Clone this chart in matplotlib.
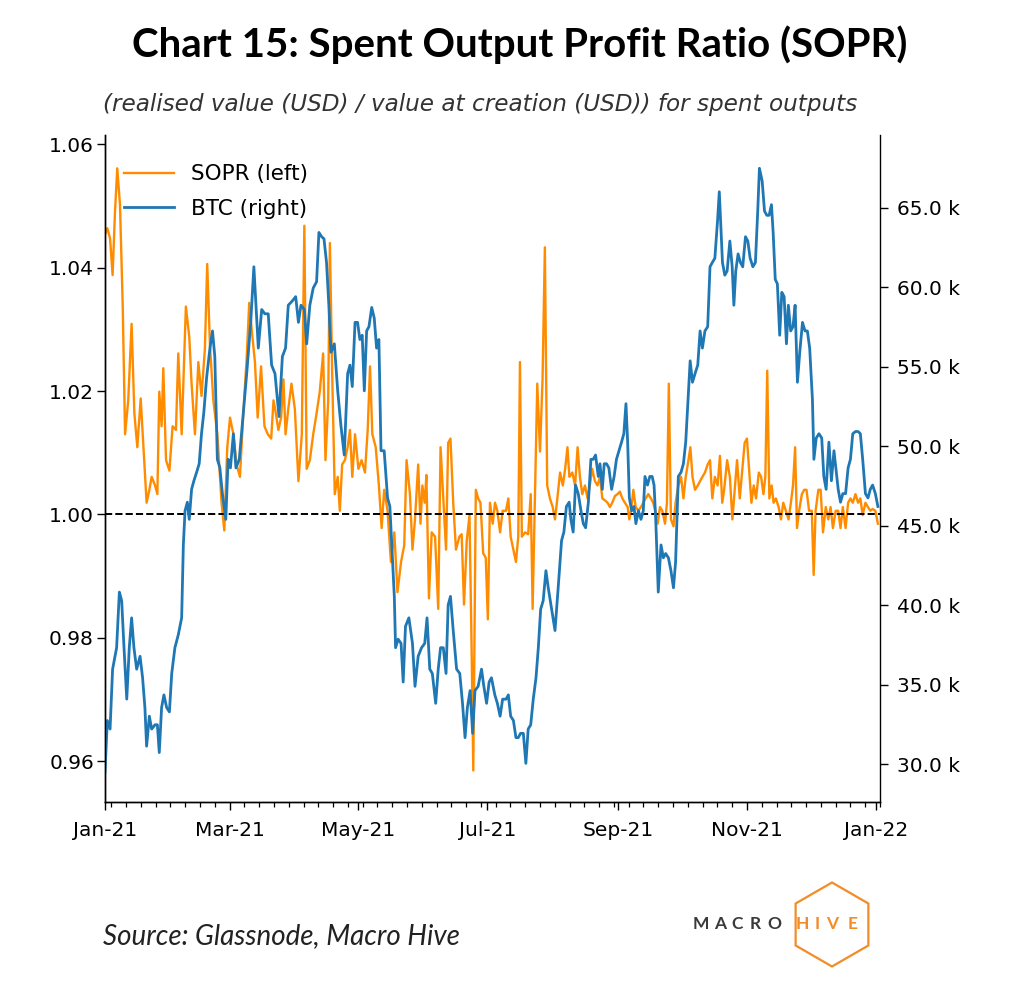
import matplotlib
matplotlib.use('Agg')
import matplotlib.pyplot as plt
import matplotlib.dates as mdates
from matplotlib.ticker import FuncFormatter
from matplotlib.patches import RegularPolygon
import pandas as pd

# ---------------- data ----------------
start_date = '2021-01-01'
end_date = '2022-01-03'

sopr_days = [0, 1.1, 2.4, 3.6, 4.7, 5.8, 7.1, 8.4, 9.5, 11, 12.6, 13.9, 15.3, 16.9, 18.1, 19.7, 21, 22.1, 23.7, 24.8,
             25.7, 26.8, 27.6, 28.9, 30.5, 32, 33.6, 34.7, 36.3, 38.3, 39.9, 41, 42.6, 44.2, 45.7, 47.3, 48.4, 49.7,
             51.3, 53.2, 55.2, 56.5, 57.9, 59.2, 60.8, 62.3, 63.9, 65.5, 67.1, 68.3, 69.4, 71, 72.3,
             73.9, 75.5, 77.1, 78.7, 79.8, 80.9, 82.1, 83.4, 84.5, 85.5, 86.8, 88.3, 89.9, 91.6, 93.2, 94.4, 95.5,
             97, 98.6, 100.2, 101.7, 103.3, 104.4, 105.7, 106.5, 107.6, 108.8, 110.2, 111.2, 112.3, 113.6, 114.9,
             116, 117.1, 118.4, 120, 121.5, 123.1, 124.4, 125.5, 126.6, 128.2, 129.7, 131, 132.2, 133.8, 135.4,
             137, 138.5, 140.2, 141.7, 142.8,
             144.4, 145.6, 146.8, 148.3, 149.4, 150.3, 151.4, 152.2, 153.4, 154.7, 156.3, 157.8, 158.9, 160.2,
             161.5, 162.5, 163.6, 164.9, 166.2, 167.8, 168.9, 170, 171.3, 172.6, 173.6, 174.4, 175.6, 176.7, 177.8,
             179.1, 180.3, 181.3, 182.3, 183.6, 184.7, 185.8, 187.1, 188.3, 189.9, 191, 192.1, 193.4, 194.6, 195.7,
             196.5, 197.4, 198.9, 200.4, 201.6, 202.5, 203.6, 204.7, 206, 207.2, 208.3, 209.4, 210.7, 212, 213.1,
             214.2, 215.5, 216.8, 217.9, 219, 219.9,
             221.3, 222.6, 223.8, 224.9, 226, 227.3, 228.5, 229.6, 230.7, 232, 233.2, 234.4, 235.5, 236.7, 238,
             239.1, 240.2, 241.5, 242.7, 243.8, 245, 246.2, 247.5, 248.3, 249.1, 250.2, 251.3, 252.6, 253.8, 254.9,
             256, 257.3, 258.5, 259.6, 260.6, 261.7, 262.8, 263.9, 265.2, 266.1, 267, 268, 269.2, 270.2, 271.5,
             272.8, 273.9, 275, 276.3, 277.2, 278.2, 279.4, 280.7, 281.8, 282.9, 284.1, 285.4, 286.5, 287.6, 288.8,
             290.1, 291.2, 292.3, 293.2,
             294.6, 295.9, 297.1, 298.2, 299.3, 300.6, 301.8, 302.9, 304, 305, 306.1, 307.2, 308.3, 309.6, 310.7,
             311.8, 312.7, 313.6, 314.6, 315.7, 316.6, 317.7, 319, 320.1, 321.2, 322.4, 323.7, 324.8, 325.8, 326.8,
             327.7, 328.7, 330, 331.1, 332.2, 333.4, 334.7, 335.6, 336.5, 337.8, 338.9, 340, 341.3, 342.5, 343.6,
             344.7, 346, 347.2, 348.3, 349.4, 350.7, 351.9, 353, 354.1, 355.4, 356.6, 357.7, 358.8, 360.1, 361.3,
             362.4, 363.5, 364.8, 366]
sopr_values = [1.0454, 1.0464, 1.0447, 1.0388, 1.0488, 1.0561, 1.0502, 1.0337, 1.0130, 1.0185, 1.0309, 1.0164,
               1.0109, 1.0188, 1.0116, 1.0019, 1.0040, 1.0061, 1.0047, 1.0033, 1.0199, 1.0143, 1.0237, 1.0088,
               1.0071, 1.0143, 1.0137, 1.0261, 1.0130, 1.0337, 1.0288, 1.0212, 1.0130, 1.0247, 1.0192, 1.0268,
               1.0406, 1.0274, 1.0185, 1.0130, 1.0019, 0.9974, 1.0109, 1.0157, 1.0130, 1.0081, 1.0061, 1.0164,
               1.0254, 1.0343, 1.0302, 1.0247, 1.0157,
               1.0240, 1.0143, 1.0130, 1.0123, 1.0185, 1.0164, 1.0137, 1.0157, 1.0219, 1.0130, 1.0171, 1.0212,
               1.0171, 1.0054, 1.0130, 1.0468, 1.0074, 1.0088, 1.0130, 1.0164, 1.0199, 1.0261, 1.0088, 1.0185,
               1.0440, 1.0226, 1.0033, 1.0061, 1.0006, 1.0081, 1.0088, 1.0109, 1.0137, 1.0061, 1.0130, 1.0074,
               1.0088, 1.0068, 1.0137, 1.0240, 1.0130, 1.0109, 1.0047, 0.9978, 1.0040, 1.0006, 0.9923, 0.9971,
               0.9874, 0.9923, 0.9950, 1.0088,
               1.0033, 0.9943, 0.9992, 1.0081, 0.9985, 1.0047, 1.0019, 1.0064, 0.9864, 0.9971, 0.9964, 0.9847,
               1.0109, 1.0026, 0.9943, 1.0116, 1.0123, 1.0019, 0.9943, 0.9964, 0.9968, 0.9854, 0.9957, 0.9999,
               0.9785, 0.9585, 1.0040, 1.0026, 1.0019, 0.9937, 0.9930, 0.9830, 1.0019, 0.9985, 1.0019, 1.0006,
               0.9971, 1.0006, 1.0006, 1.0026, 0.9964, 0.9943, 0.9923, 0.9964, 1.0247, 0.9964, 0.9971, 0.9968,
               1.0033, 0.9847, 1.0033, 1.0212, 1.0102, 1.0219, 1.0433, 1.0047, 1.0026, 1.0012, 0.9992, 1.0026,
               1.0068, 1.0047, 1.0074, 1.0109, 1.0061,
               1.0068, 1.0047, 1.0109, 1.0061, 1.0033, 1.0047, 1.0026, 1.0047, 1.0074, 1.0054, 1.0047, 1.0061,
               1.0026, 1.0023, 1.0019, 1.0012, 1.0019, 1.0030, 1.0033, 1.0037, 1.0026, 1.0019, 1.0012, 0.9992,
               1.0006, 1.0040, 1.0012, 1.0006, 1.0012, 1.0019, 1.0026, 1.0033, 1.0026, 1.0019, 1.0006, 0.9985,
               1.0012, 1.0006, 0.9985, 1.0019, 1.0212, 0.9992, 0.9981, 1.0019, 1.0047, 1.0061, 1.0026, 1.0061,
               1.0088, 1.0109, 1.0061, 1.0040, 1.0047, 1.0054, 1.0061, 1.0068, 1.0081, 1.0088, 1.0026, 1.0061,
               1.0047, 1.0095, 1.0019, 1.0040,
               1.0088, 1.0061, 0.9992, 1.0040, 1.0088, 1.0026, 1.0074, 1.0116, 1.0123, 1.0074, 1.0019, 1.0047,
               1.0026, 1.0068, 1.0061, 1.0033, 1.0061, 1.0233, 1.0026, 1.0047, 1.0019, 1.0026, 1.0012, 0.9992,
               1.0019, 1.0006, 0.9992, 1.0019, 1.0047, 1.0109, 0.9978, 1.0006, 1.0033, 1.0040, 1.0040, 1.0006,
               1.0006, 0.9902, 1.0006, 1.0040, 1.0040, 0.9971, 1.0012, 0.9992, 1.0012, 0.9978, 1.0006, 1.0006,
               0.9978, 1.0012, 0.9978, 1.0019, 1.0026, 1.0019, 1.0033, 1.0019, 1.0026, 0.9999, 1.0019, 1.0012,
               1.0006, 1.0009, 1.0006, 0.9985]

btc_days = [0, 1.1, 2.4, 3.6, 5.5, 6.8, 7.9, 9, 10.3, 11.5, 12.6, 13.7, 15, 16.6, 17.8, 18.9, 19.7, 21, 22.1, 23.7,
            24.8, 25.7, 26.8, 27.9, 29.2, 30.5, 31.6, 33.1, 34.7, 36.3, 37.1, 37.9, 39, 39.9, 41, 42.1, 43.4, 44.6,
            45.7, 46.8, 48.1, 49.7, 50.9, 52, 53.2, 54.4, 55.6, 57.2, 58.3, 59.4, 60.8, 62, 63.6, 65.5, 67.1, 69,
            70.5,
            72.6, 74.2, 75.7, 77.3, 78.9, 80.5, 82.4, 84, 85.5, 86.8, 88.7, 90.3, 91.6, 92.8, 94.4, 95.5, 97, 98.6,
            100.2, 101.3, 102.6, 103.7, 104.9, 106, 107, 108.6, 110.2, 111.7, 113.3, 114.9, 116, 117.1, 118.4,
            119.6, 120.7, 121.8, 122.8, 123.9, 125, 126.3, 127.5, 128.6, 129.7, 130.7, 132.2, 133.8, 134.9, 136,
            137, 137.6, 138.8, 140.2, 141.2, 142.3, 143.9,
            145.6, 146.8, 148.3, 149.9, 151.4, 152.5, 153.8, 155, 156.6, 157.8, 158.9, 160.2, 161.5, 162.5, 163.6,
            164.9, 166.5, 168, 169.3, 170.5, 171.6, 172.9, 174.1, 175.2, 176.7, 178.3, 179.4, 180.7, 181.9, 183,
            184.6, 185.8, 187.1, 188.3, 189.9, 191, 192.1, 193.4, 194.6, 195.7, 196.8, 198.1, 199.3, 200.4, 201.6,
            202.8, 204.1, 205.2, 206.3, 207.5, 208.8, 209.9, 211.5, 213.1, 214.6, 216.2, 217.3, 218.5,
            219.8, 220.6, 221.7, 222.8, 224.1, 225.4, 226.5, 227.6, 228.9, 230.1, 231.2, 232.3, 233.6, 234.4,
            235.5, 236.4, 237.5, 238.6, 239.9, 241.1, 242.2, 243.4, 244.6, 245.7, 246.7, 247.5, 248.3, 249.4,
            250.5, 251.4, 252.6, 253.8, 254.9, 255.7, 256.9, 258, 259.1, 260, 260.8, 262, 263.3, 264.4, 265.5,
            266.8, 268, 269.2, 270.2, 271.5, 272.8, 273.9, 275, 276.3, 277.1, 278.2, 279.4, 280.7, 281.8, 282.9,
            284.1, 285.4, 286.5, 287.6, 288.8, 290.1, 290.9,
            292.4, 293.5, 294.6, 295.9, 297, 297.8, 298.7, 299.8, 300.9, 302, 303.3, 304.4, 305.5, 306.8, 308,
            309.1, 309.9, 311.2, 312.3, 313.4, 314.5, 315.6, 316.4, 317.4, 318.4, 319.5, 320.5, 321.6, 322.7,
            323.6, 324.7, 325.8, 326.8, 327.9, 329, 330.3, 331.5, 332.6, 333.7, 335, 335.7, 336.8, 338.1, 339.4,
            340.4, 341.5, 342.8, 344, 345.2, 346.3, 347.2, 348.3, 349.4, 350.7, 351.9, 353, 354.1, 355.4, 356.6,
            357.7, 358.8, 360.1, 361.3, 362.4, 363.5, 364.8, 366]
btc_values = [29504, 32737, 32200, 35970, 37320, 40820, 40280, 37320, 34085, 37320, 39200, 37320, 35970, 36780,
              35430, 33550, 31120, 33010, 32200, 32470, 32470, 30720, 33550, 34350, 33550, 33280, 35700, 37320,
              38130, 39200, 43790, 45940, 46480, 45400, 47290, 47830, 48370, 48900, 50790, 52140, 54300, 56180,
              57260, 55650, 49180, 48640, 47020, 45400, 49180, 48640, 50790, 48640, 49180, 52140, 54570, 57800,
              61300,
              56180, 58610, 58340, 58340, 55110, 54570, 51870, 55650, 56180, 58880, 59150, 59420, 57800, 58880,
              58610, 56450, 58880, 59960, 60360, 63460, 63190, 63060, 61570, 58880, 55920, 56450, 53490, 51330,
              49450, 54570, 55110, 53760, 57800, 57800, 56720, 56990, 53490, 57260, 57530, 58740, 58070, 56180,
              56720, 49720, 49720, 46750, 46210, 43250, 40550, 37320, 37860, 37590, 35160, 38670, 39200,
              37590, 34890, 36780, 37320, 37590, 39200, 35970, 35700, 33820, 35970, 37320, 37320, 35700, 40010,
              40550, 38400, 35970, 35700, 33820, 31660, 33550, 34620, 31930, 34620, 34890, 35970, 34890, 33820,
              35160, 35430, 34350, 33820, 33010, 34080, 34080, 34350, 33010, 32740, 31660, 31660, 31930, 31930,
              30040, 32200, 32470, 34080, 35430, 37320, 39740, 40280, 42170, 41090, 39740, 38400, 41090, 44060,
              44600, 46210,
              46480, 45400, 44600, 47560, 47020, 45940, 45130, 44870, 46480, 49180, 49180, 49450, 48100, 48900,
              47290, 48900, 48900, 48640, 47290, 48100, 49180, 49720, 50260, 50790, 52680, 50260, 46750, 45940,
              46210, 45130, 45940, 45400, 45940, 48100, 47560, 48100, 48100, 47560, 45400, 40820, 43790, 42980,
              43250, 42980, 42170, 41090, 42710, 48100, 48370, 48900, 50260, 53490, 55380, 54030, 54570, 55110,
              57260, 56180, 57260, 57530, 61300, 61570, 61840, 64270, 66020,
              61570, 60770, 61030, 62920, 61300, 58880, 61030, 62110, 61570, 61300, 63190, 62920, 61840, 61300,
              61570, 64810, 67500, 66700, 64810, 64540, 64540, 65210, 63460, 60500, 60230, 56990, 59690, 59420,
              56450, 58880, 57260, 57530, 58880, 54030, 55920, 57800, 57260, 57260, 56180, 52950, 49180, 50520,
              50790, 50520, 48100, 47290, 50260, 47830, 49720, 48370, 47290, 46480, 47020, 47020, 48640, 49180,
              50790, 50930, 50930, 50790, 49180, 47020, 46750, 47290, 47560, 47020, 46210]

title_text = 'Chart 15: Spent Output Profit Ratio (SOPR)'
subtitle_text = '(realised value (USD) / value at creation (USD)) for spent outputs'
source_text = 'Source: Glassnode, Macro Hive'
sopr_label = 'SOPR (left)'
btc_label = 'BTC (right)'
left_ticks = [0.96, 0.98, 1.00, 1.02, 1.04, 1.06]
right_ticks = [30000, 35000, 40000, 45000, 50000, 55000, 60000, 65000]

# ---------------- figure ----------------
start = pd.Timestamp(start_date)
sopr_dates = start + pd.to_timedelta(sopr_days, unit='D')
btc_dates = start + pd.to_timedelta(btc_days, unit='D')

ORANGE = '#ff8c00'
BLUE = '#1f77b4'

fig = plt.figure(figsize=(10.2, 9.86), dpi=100)
fig.patch.set_facecolor('white')

ax = fig.add_axes([105 / 1020, 1 - 802 / 986, 775 / 1020, 667 / 986])
l1, = ax.plot(sopr_dates, sopr_values, color=ORANGE, lw=1.7, label=sopr_label)
ax.axhline(1.0, color='black', ls='--', lw=1.4)
ax.set_ylim(0.9534, 1.0615)
ax.set_yticks(left_ticks)
ax.yaxis.set_major_formatter(FuncFormatter(lambda v, p: f'{v:.2f}'))

ax2 = ax.twinx()
l2, = ax2.plot(btc_dates, btc_values, color=BLUE, lw=2.0, label=btc_label)
ax2.set_ylim(27608, 69595)
ax2.set_yticks(right_ticks)
ax2.yaxis.set_major_formatter(FuncFormatter(lambda v, p: f'{v / 1000:.1f} k'))

ax.set_xlim(pd.Timestamp(start_date), pd.Timestamp(end_date))
ax.xaxis.set_major_locator(mdates.MonthLocator(bymonth=[1, 3, 5, 7, 9, 11]))
ax.xaxis.set_minor_locator(mdates.WeekdayLocator(byweekday=0))
ax.xaxis.set_major_formatter(mdates.DateFormatter('%b-%y'))

for a in (ax, ax2):
    a.spines['top'].set_visible(False)
    for s in a.spines.values():
        s.set_linewidth(1.0)
    a.tick_params(axis='both', which='major', labelsize=14.5, length=6, width=1.0)
    a.tick_params(axis='both', which='minor', length=3.5, width=0.9)
ax.spines['right'].set_visible(False)
ax.tick_params(axis='x', which='major', pad=8)
ax.tick_params(axis='y', which='major', pad=2)
ax2.tick_params(axis='y', which='major', pad=6)

ax2.legend(handles=[l1, l2], loc='upper left', bbox_to_anchor=(0, 1 - 10 / 667),
           frameon=False, fontsize=15.5, handlelength=2.3, labelspacing=0.68, handletextpad=0.8)

# title, subtitle, source
fig.text(520 / 1020, 1 - 45 / 986, title_text, ha='center', va='center',
         fontsize=29, fontweight='bold', family='Lato')
fig.text(103 / 1020, 1 - 104 / 986, subtitle_text, ha='left', va='center',
         fontsize=16.7, style='italic', color='#333333')
fig.text(103 / 1020, 1 - 936 / 986, source_text, ha='left', va='center',
         fontsize=20, style='italic', family='Lato', color='#222222')

# logo overlay
lax = fig.add_axes([0, 0, 1, 1])
lax.set_xlim(0, 1020)
lax.set_ylim(986, 0)
lax.axis('off')
lax.patch.set_visible(False)
hexagon = RegularPolygon((832, 924.5), numVertices=6, radius=42, orientation=0,
                         facecolor='none', edgecolor='#f28c28', lw=1.6)
lax.add_patch(hexagon)
logo_letters = ['M', 'A', 'C', 'R', 'O', 'H', 'I', 'V', 'E']
logo_colors = ['#3a3a3a'] * 5 + ['#f28c28'] * 4
logo_x = [701, 720, 737.5, 755, 774.5, 802.5, 817.5, 832.5, 852.5]
for ch, xx, col in zip(logo_letters, logo_x, logo_colors):
    lax.text(xx, 924, ch, ha='center', va='center', fontsize=12.5, fontweight='bold',
             family='Lato', color=col)

fig.savefig('out.png', dpi=100, facecolor='white')
